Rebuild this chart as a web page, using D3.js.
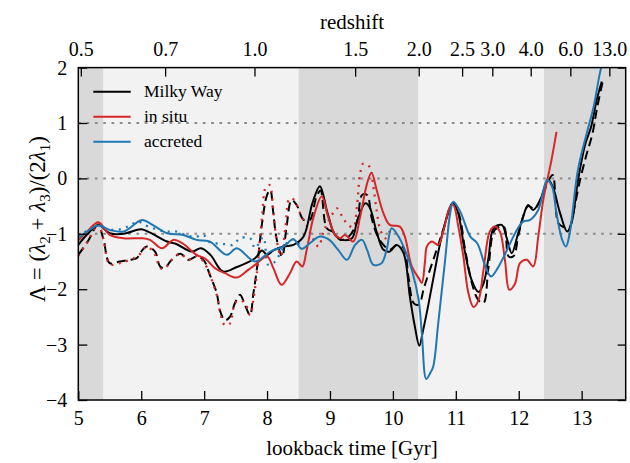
<!DOCTYPE html>
<html>
<head>
<meta charset="utf-8">
<script src="https://cdn.jsdelivr.net/npm/d3@7"></script>
<style>
  html, body { margin: 0; padding: 0; background: #fff; }
  svg { display: block; }
  text { font-family: "Liberation Serif", "Times New Roman", serif; fill: #000; }
</style>
</head>
<body>
<svg id="chart" width="630" height="463"></svg>
<script>
// ---------------- data ----------------
const xTicks = [5, 6, 7, 8, 9, 10, 11, 12, 13];
const yTicks = [-4, -3, -2, -1, 0, 1, 2];
const gridValues = [1, 0, -1];
const redshiftLabels = ["0.5", "0.7", "1.0", "1.5", "2.0", "2.5", "3.0", "4.0", "6.0", "13.0"];
const redshiftLookback = [5.04, 6.38, 7.80, 9.40, 10.41, 11.10, 11.58, 12.19, 12.82, 13.44];
const bandEdges = [5.0, 5.4, 8.5, 10.4, 12.4, 13.7];
const bandShade = ["dark", "light", "dark", "light", "dark"];
const seriesNames = ["Milky Way", "in situ", "accreted"];

const milkyWay = [[5.00,-1.20],[5.15,-1.00],[5.32,-0.84],[5.50,-0.99],[5.72,-1.00],[6.00,-0.92],[6.14,-0.98],[6.41,-1.14],[6.55,-1.18],[6.80,-1.32],[6.95,-1.26],[7.10,-1.38],[7.30,-1.68],[7.52,-1.60],[7.81,-1.44],[7.92,-1.30],[8.00,-1.38],[8.10,-1.30],[8.26,-1.23],[8.42,-1.20],[8.58,-1.05],[8.72,-0.45],[8.84,-0.14],[8.96,-0.62],[9.08,-1.02],[9.20,-1.11],[9.35,-1.08],[9.43,-0.78],[9.56,-0.45],[9.63,-0.52],[9.74,-0.96],[9.85,-1.29],[9.95,-1.32],[10.06,-1.20],[10.17,-1.35],[10.27,-2.14],[10.35,-2.68],[10.42,-3.02],[10.48,-2.74],[10.56,-2.30],[10.66,-1.70],[10.80,-0.93],[10.95,-0.45],[11.03,-0.60],[11.14,-1.30],[11.25,-1.83],[11.36,-2.05],[11.44,-1.90],[11.52,-1.43],[11.60,-0.90],[11.73,-0.84],[11.81,-1.08],[11.89,-1.35],[11.99,-0.99],[12.07,-0.69],[12.15,-0.48],[12.23,-0.57],[12.34,-0.39],[12.47,-0.03],[12.55,-0.18],[12.65,-0.60],[12.77,-0.96],[12.85,-0.75],[12.92,-0.20],[12.98,0.21],[13.06,0.63],[13.15,0.93],[13.24,1.42],[13.32,1.75]];

const inSitu = [[5.00,-1.12],[5.15,-0.95],[5.32,-0.79],[5.50,-1.02],[5.72,-1.08],[6.01,-1.08],[6.14,-1.11],[6.33,-1.26],[6.51,-1.11],[6.65,-1.17],[6.88,-1.38],[7.02,-1.45],[7.17,-1.62],[7.33,-1.71],[7.52,-1.79],[7.70,-1.65],[7.81,-1.56],[8.00,-1.41],[8.10,-1.62],[8.23,-1.92],[8.36,-1.72],[8.47,-1.50],[8.56,-1.59],[8.63,-1.29],[8.74,-0.69],[8.87,-0.32],[8.97,-0.69],[9.08,-1.02],[9.16,-1.08],[9.24,-1.02],[9.37,-1.14],[9.48,-0.69],[9.59,-0.09],[9.66,0.10],[9.74,-0.20],[9.85,-0.63],[9.95,-0.84],[10.11,-0.87],[10.19,-1.05],[10.30,-1.59],[10.41,-1.80],[10.46,-1.89],[10.51,-1.50],[10.54,-1.23],[10.62,-1.14],[10.72,-1.20],[10.80,-0.96],[10.91,-0.51],[10.96,-0.48],[11.04,-0.87],[11.12,-1.41],[11.20,-2.07],[11.28,-2.32],[11.36,-2.20],[11.44,-1.65],[11.54,-0.96],[11.62,-0.87],[11.70,-0.96],[11.78,-1.47],[11.85,-2.01],[11.94,-1.90],[12.02,-1.53],[12.13,-1.47],[12.23,-1.59],[12.31,-1.05],[12.39,-0.39],[12.52,0.33],[12.60,0.84]];

const accreted = [[5.00,-1.08],[5.15,-0.95],[5.32,-0.85],[5.50,-0.93],[5.72,-0.96],[6.01,-0.75],[6.14,-0.81],[6.41,-0.99],[6.67,-1.02],[6.88,-1.11],[7.09,-1.14],[7.36,-1.38],[7.52,-1.26],[7.81,-1.50],[8.05,-1.32],[8.26,-1.23],[8.42,-1.10],[8.55,-1.27],[8.68,-1.17],[8.84,-1.05],[8.99,-1.11],[9.13,-1.29],[9.27,-1.47],[9.40,-1.20],[9.51,-1.11],[9.59,-1.29],[9.69,-1.56],[9.82,-1.53],[9.90,-1.29],[9.98,-0.90],[10.09,-1.05],[10.19,-1.29],[10.30,-1.65],[10.41,-2.20],[10.46,-2.80],[10.53,-3.62],[10.59,-3.52],[10.64,-3.40],[10.72,-2.62],[10.83,-1.47],[10.91,-0.63],[10.96,-0.42],[11.07,-0.60],[11.23,-1.05],[11.34,-1.17],[11.47,-1.59],[11.56,-1.77],[11.68,-1.59],[11.84,-1.23],[11.97,-0.93],[12.07,-0.78],[12.18,-0.75],[12.31,-0.57],[12.45,-0.03],[12.53,-0.15],[12.60,-0.63],[12.69,-1.11],[12.75,-1.23],[12.81,-0.99],[12.94,0.15],[13.08,0.81],[13.19,1.29],[13.29,1.90],[13.40,2.40]];

const milkyWayAlt = [[5.00,-1.38],[5.16,-1.12],[5.31,-0.84],[5.40,-1.10],[5.50,-1.53],[5.66,-1.50],[5.82,-1.47],[5.93,-1.44],[5.98,-1.35],[6.09,-1.23],[6.22,-1.32],[6.30,-1.59],[6.38,-1.62],[6.46,-1.50],[6.62,-1.36],[6.75,-1.47],[6.88,-1.41],[6.99,-1.47],[7.09,-1.74],[7.20,-2.07],[7.25,-2.38],[7.33,-2.56],[7.41,-2.50],[7.49,-2.25],[7.57,-2.10],[7.65,-2.29],[7.73,-2.47],[7.78,-2.10],[7.84,-1.62],[7.92,-0.81],[8.00,-0.30],[8.05,-0.21],[8.10,-0.63],[8.15,-1.08],[8.24,-1.41],[8.31,-0.87],[8.39,-0.39],[8.47,-0.48],[8.58,-0.75],[8.68,-0.75],[8.78,-0.35],[8.85,-0.22],[8.95,-0.90],[9.06,-0.97],[9.16,-1.11],[9.30,-1.05],[9.43,-0.78],[9.51,-0.30],[9.59,-0.30],[9.66,-0.70],[9.74,-1.00],[9.85,-1.20],[9.95,-1.29],[10.06,-1.20],[10.17,-1.26],[10.25,-1.80],[10.33,-2.25],[10.41,-2.28],[10.50,-1.95],[10.66,-1.41],[10.80,-0.93],[10.95,-0.45],[11.05,-0.65],[11.15,-1.30],[11.27,-1.95],[11.36,-2.20],[11.44,-2.25],[11.52,-1.60],[11.62,-0.93],[11.76,-0.87],[11.84,-1.41],[11.92,-1.40],[12.00,-1.00],[12.15,-0.50],[12.25,-0.55],[12.36,-0.35],[12.47,-0.05],[12.54,0.06],[12.63,-0.81],[12.72,-0.88],[12.80,-0.90],[12.88,-0.55],[12.97,-0.05],[13.07,0.40],[13.17,0.80],[13.25,1.30],[13.34,1.78]];

const inSituAlt = [[5.00,-1.40],[5.16,-1.12],[5.31,-0.82],[5.40,-1.10],[5.50,-1.55],[5.66,-1.53],[5.82,-1.47],[5.95,-1.40],[6.09,-1.23],[6.22,-1.38],[6.30,-1.62],[6.38,-1.62],[6.46,-1.50],[6.62,-1.36],[6.75,-1.47],[6.88,-1.40],[6.99,-1.50],[7.09,-1.74],[7.20,-2.10],[7.27,-2.50],[7.33,-2.65],[7.41,-2.62],[7.49,-2.25],[7.57,-2.20],[7.65,-2.25],[7.73,-2.47],[7.78,-2.20],[7.84,-1.70],[7.92,-0.70],[7.98,-0.16],[8.04,-0.12],[8.10,-0.60],[8.15,-1.10],[8.22,-1.40],[8.29,-0.90],[8.36,-0.36],[8.44,-0.40],[8.52,-0.62],[8.63,-0.85],[8.76,-1.15],[8.82,-1.23],[8.90,-0.95],[9.03,-0.66],[9.11,-0.54],[9.20,-0.70],[9.29,-0.84],[9.37,-0.88],[9.43,-0.48],[9.48,0.09],[9.53,0.27],[9.63,0.21],[9.69,-0.15],[9.74,-0.57],[9.80,-0.93],[9.88,-1.08],[9.95,-0.95]];

const accretedAlt = [[5.00,-1.05],[5.16,-0.93],[5.32,-0.84],[5.45,-0.92],[5.66,-0.92],[5.82,-0.85],[5.95,-0.78],[6.11,-0.87],[6.41,-0.96],[6.56,-0.96],[6.75,-1.04],[6.88,-1.05],[6.99,-1.02],[7.09,-1.15],[7.30,-1.18],[7.46,-1.20],[7.57,-1.08],[7.73,-1.08],[7.81,-1.26],[7.94,-1.06],[8.02,-1.56],[8.13,-1.50],[8.21,-1.35],[8.31,-1.17],[8.42,-1.10],[8.55,-1.25]];

// ---------------- chart ----------------
const FONT = "'Liberation Serif', 'Times New Roman', serif";
const svg = d3.select("#chart");
const L = 78.3, R = 625.7, T = 67.6, B = 400;
const x = d3.scaleLinear().domain([5, 13.7]).range([L, R]);
const y = d3.scaleLinear().domain([-4, 2]).range([B, T]);

const colors = { black: "#000000", red: "#d62728", blue: "#1f77b4" };
const shade = { dark: "#d9d9d9", light: "#f2f2f2" };

svg.append("defs").append("clipPath").attr("id", "plotclip")
  .append("rect").attr("x", L).attr("y", T).attr("width", R - L).attr("height", B - T);

// background bands
svg.append("g").selectAll("rect").data(bandShade).join("rect")
  .attr("x", (d, i) => x(bandEdges[i]))
  .attr("width", (d, i) => x(bandEdges[i + 1]) - x(bandEdges[i]))
  .attr("y", T).attr("height", B - T)
  .attr("fill", d => shade[d]);

// grid
svg.append("g").selectAll("line").data(gridValues).join("line")
  .attr("x1", L).attr("x2", R)
  .attr("y1", d => y(d)).attr("y2", d => y(d))
  .attr("stroke", "#8c8c8c").attr("stroke-width", 2)
  .attr("stroke-dasharray", "2.7,5.6");

// lines
const line = d3.line().x(d => x(d[0])).y(d => y(d[1])).curve(d3.curveCatmullRom.alpha(0.5));
const plot = svg.append("g").attr("clip-path", "url(#plotclip)");
const drawn = [
  { data: milkyWayAlt, color: colors.black, dash: "9,5", w: 2 },
  { data: inSituAlt, color: colors.red, dash: "2,5.5", w: 2.3 },
  { data: accretedAlt, color: colors.blue, dash: "2,5.5", w: 2.3 },
  { data: milkyWay, color: colors.black, dash: null, w: 2 },
  { data: inSitu, color: colors.red, dash: null, w: 2 },
  { data: accreted, color: colors.blue, dash: null, w: 2 }
];
drawn.forEach(s => {
  plot.append("path").datum(s.data)
    .attr("d", line).attr("fill", "none")
    .attr("stroke", s.color).attr("stroke-width", s.w)
    .attr("stroke-dasharray", s.dash)
    .attr("stroke-linejoin", "round");
});

// axes
function styleAxis(g) {
  g.attr("font-family", FONT);
  g.select(".domain").remove();
  g.selectAll(".tick line").attr("stroke", "#000").attr("stroke-width", 1.3);
  g.selectAll(".tick text").style("font-family", FONT).attr("font-size", 20).attr("fill", "#000");
}
svg.append("g").attr("transform", `translate(0,${B})`)
  .call(d3.axisBottom(x).tickValues(xTicks).tickFormat(d3.format("d")).tickSizeInner(-9).tickSizeOuter(0).tickPadding(11))
  .call(styleAxis);
svg.append("g").attr("transform", `translate(0,${T})`)
  .call(d3.axisTop(x).tickValues(redshiftLookback).tickFormat((d, i) => redshiftLabels[i]).tickSizeInner(-9).tickSizeOuter(0).tickPadding(12))
  .call(styleAxis);
svg.append("g").attr("transform", `translate(${L},0)`)
  .call(d3.axisLeft(y).tickValues(yTicks).tickFormat(d3.format("d")).tickSizeInner(-9).tickSizeOuter(0).tickPadding(11))
  .call(styleAxis);
svg.append("g").attr("transform", `translate(${R},0)`)
  .call(d3.axisRight(y).tickValues(yTicks).tickFormat("").tickSizeInner(-8).tickSizeOuter(0))
  .call(styleAxis);

// frame
svg.append("rect").attr("x", L).attr("y", T).attr("width", R - L).attr("height", B - T)
  .attr("fill", "none").attr("stroke", "#000").attr("stroke-width", 1.5);

// axis labels
svg.append("text").attr("x", (L + R) / 2).attr("y", 455).attr("text-anchor", "middle")
  .attr("font-size", 21).text("lookback time [Gyr]");
svg.append("text").attr("x", (L + R) / 2).attr("y", 29).attr("text-anchor", "middle")
  .attr("font-size", 21).text("redshift");

const yl = svg.append("text").attr("transform", `translate(45,219) rotate(-90)`)
  .attr("text-anchor", "middle").attr("font-size", 23);
const parts = [
  ["Λ", null], [" = ", null], ["(", null], ["λ", "i"], ["2", "s"], [" + ", null], ["λ", "i"], ["3", "s"],
  [")/(2", null], ["λ", "i"], ["1", "s"], [")", null]
];
let prevSub = false;
parts.forEach(([t, k]) => {
  const ts = yl.append("tspan").text(t).attr("xml:space", "preserve");
  if (k === "i") ts.attr("font-style", "italic");
  if (k === "s") { ts.attr("font-size", 15).attr("dy", 5); prevSub = true; }
  else if (prevSub) { ts.attr("dy", -5); prevSub = false; }
});
yl.style("white-space", "pre");

// legend
const legendColors = [colors.black, colors.red, colors.blue];
const lg = svg.append("g");
seriesNames.forEach((name, i) => {
  const ly = 91.7 + i * 25;
  lg.append("line").attr("x1", 93.3).attr("x2", 130.7).attr("y1", ly).attr("y2", ly)
    .attr("stroke", legendColors[i]).attr("stroke-width", 2);
  lg.append("text").attr("x", 144).attr("y", ly).attr("dy", "0.33em")
    .attr("font-size", 17.5).text(name);
});
</script>
</body>
</html>
